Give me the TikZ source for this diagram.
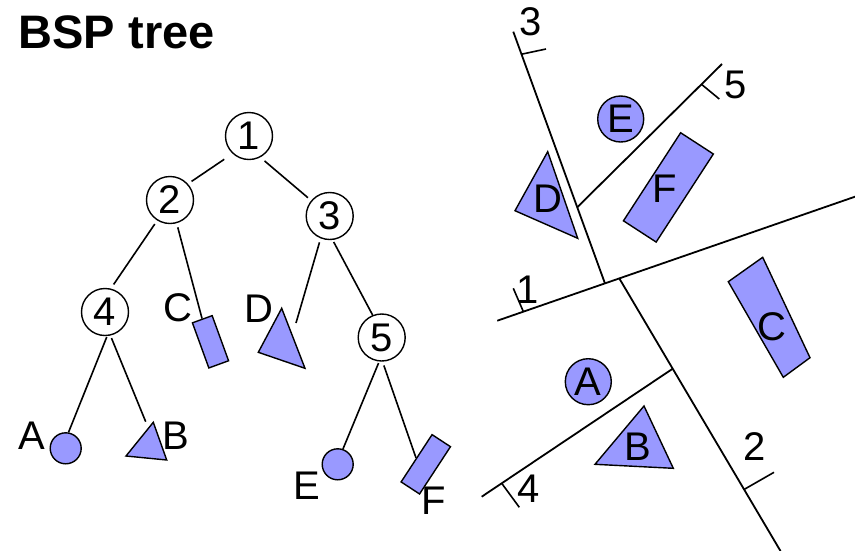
\documentclass[tikz,border=0pt]{standalone}
\usepackage{fontspec}
\setmainfont{Liberation Sans}
\definecolor{piececol}{HTML}{9999FF}
\tikzset{
  lbl/.style={font=\fontsize{40}{42}\selectfont, inner sep=0pt},
  tnode/.style={circle, draw, fill=white, line width=1.4pt, minimum size=47pt,
                inner sep=0pt, font=\fontsize{40}{42}\selectfont},
  piece/.style={draw, fill=piececol, line width=1.4pt, inner sep=0pt},
  link/.style={line width=1.6pt},
  splitline/.style={line width=1.8pt},
}
\begin{document}
\begin{tikzpicture}[x=1pt, y=-1pt, line join=miter]
\useasboundingbox (0,0) rectangle (855,550);

% title
\node[anchor=base west, inner sep=0pt, font=\fontsize{47}{49}\selectfont\bfseries]
  (title) at (18.5,48) {BSP tree};

% ---------- tree ----------
\node[tnode] (n1) at (249,136) {1};
\node[tnode] (n2) at (170,200) {2};
\node[tnode] (n3) at (329.7,216) {3};
\node[tnode] (n4) at (105,312) {4};
\node[tnode] (n5) at (381.7,337.5) {5};

% leaves
\node[piece, circle, minimum size=31pt] (leafA) at (65.7,448.3) {};
\draw[piece] (126,456) -- (153.3,422.3) -- (166.7,460) -- cycle;
\coordinate (Btip) at (145.7,421.7);
\node[piece, rectangle, minimum width=21pt, minimum height=48pt, rotate=20]
  (leafC) at (210.5,341.8) {};
\draw[piece] (281.7,308.3) -- (258.3,352.3) -- (305,368.3) -- cycle;
\coordinate (Dtip) at (296,323);
\node[piece, circle, minimum size=31pt] (leafE) at (337.7,464.3) {};
\node[piece, rectangle, minimum width=22pt, minimum height=56.5pt, rotate=-33.2]
  (leafF) at (425.8,464.3) {};

% leaf labels
\node[lbl] (tA) at (32,436) {A};
\node[lbl] (tB) at (176,436) {B};
\node[lbl] (tC) at (177.5,308) {C};
\node[lbl] (tD) at (259,309) {D};
\node[lbl] (tE) at (307,486) {E};
\node[lbl] (tF) at (434,501) {F};

% tree edges
\draw[link, shorten <=10pt, shorten >=4.3pt] (n1.227) -- (n2.42);
\draw[link, shorten <=5.5pt, shorten >=4.2pt] (n1.298) -- (n3.140);
\draw[link, shorten <=4.3pt, shorten >=4.9pt] (n2.238) -- (n4.76);
\draw[link, shorten <=4.2pt] (n2.286) -- (leafC.north);
\draw[link, shorten <=4.1pt] (n3.248) -- (Dtip);
\draw[link, shorten <=2.2pt] (n3.277) -- (n5.112);
\draw[link, shorten <=1pt] (n4.275) -- (leafA.80);
\draw[link, shorten <=2.7pt] (n4.283) -- (Btip);
\draw[link, shorten <=1.6pt] (n5.264) -- (leafE.71);
\draw[link, shorten <=4pt] (n5.272) -- (leafF.west);

% ---------- partition of the plane ----------
\coordinate (p3a) at (513.3,31.7);
\coordinate (p3b) at (605,283.5);
\coordinate (p1a) at (497.3,320.7);
\coordinate (p1b) at (857,196);
\coordinate (p2a) at (619.3,278.4);
\coordinate (p2b) at (780.5,551);
\coordinate (p4a) at (481.7,496.7);
\coordinate (p4b) at (672.7,368.7);
\coordinate (p5a) at (577.2,207.3);
\coordinate (p5b) at (722,64);

\draw[splitline] (p3a) -- (p3b);
\draw[splitline] (p1a) -- (p1b);
\draw[splitline] (p2a) -- (p2b);
\draw[splitline] (p4a) -- (p4b);
\draw[splitline] (p5a) -- (p5b);

% orientation ticks
\draw[link] (521.6,54.2) -- (546,49);
\draw[link] (513.3,288.3) -- (523.3,311.5);
\draw[link] (744,489.5) -- (774,472.3);
\draw[link] (501.7,483.3) -- (519.3,507.3);
\draw[link] (701.7,84.5) -- (719.3,99);

% plane labels
\node[lbl] (l3) at (530.5,21.7) {3};
\node[lbl] (l1) at (527.5,290) {1};
\node[lbl] (l2) at (754.5,446.7) {2};
\node[lbl] (l4) at (529,489) {4};
\node[lbl] (l5) at (736,85) {5};

% objects
\node[piece, circle, minimum size=46pt, font=\fontsize{40}{42}\selectfont]
  (objE) at (620.7,119) {E};
\node[piece, circle, minimum size=46pt, font=\fontsize{40}{42}\selectfont]
  (objA) at (588.3,381.7) {A};
\draw[piece] (547.7,151.7) -- (515,210.7) -- (577.7,238.3) -- cycle;
\node[lbl] (oD) at (548.3,198.3) {D};
\draw[piece] (644,406) -- (595,464.3) -- (673.3,468.3) -- cycle;
\node[lbl] (oB) at (638.3,446.7) {B};
\node[piece, rectangle, minimum width=39pt, minimum height=105pt, rotate=-33]
  (objF) at (668.4,187.4) {};
\node[lbl] (oF) at (665,188.3) {F};
\draw[piece] (762.7,257.3) -- (810,357.7) -- (783.3,377.3) -- (728.3,281.7) -- cycle;
\node[lbl] (oC) at (771.7,326.7) {C};
\end{tikzpicture}
\end{document}
